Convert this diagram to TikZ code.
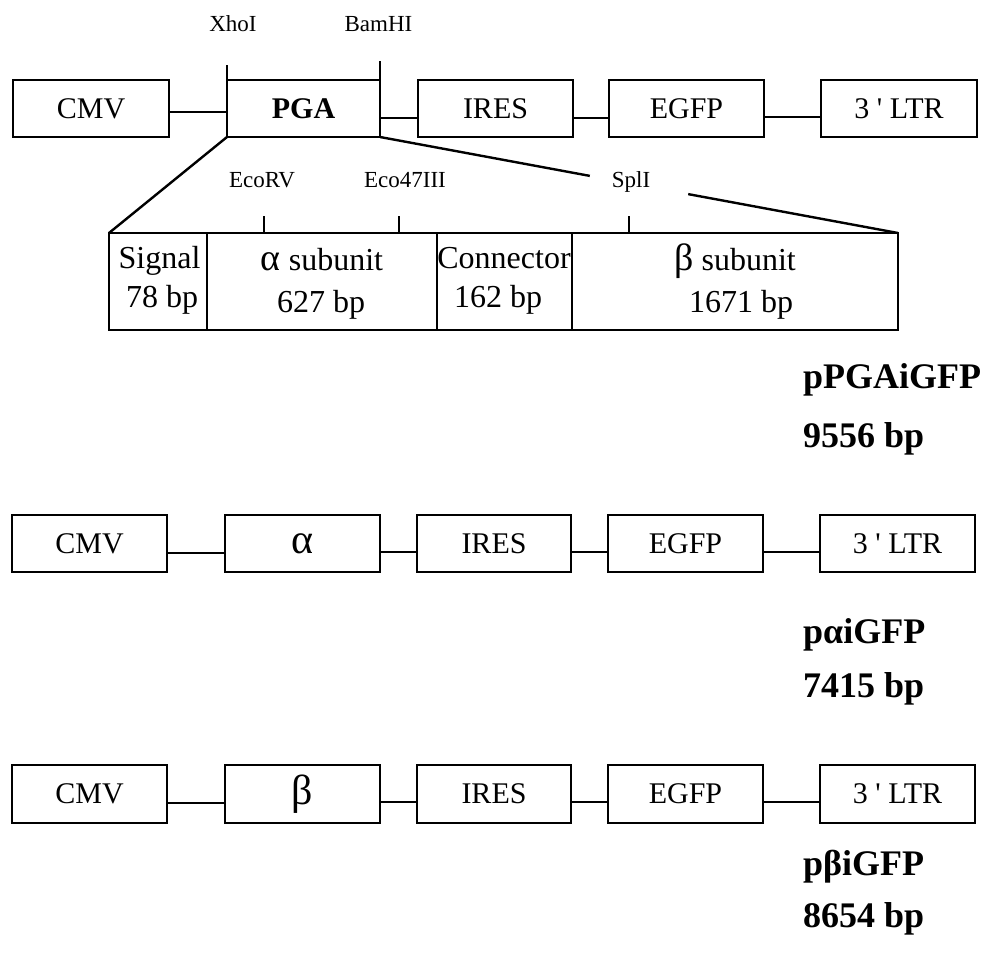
\documentclass[tikz,border=0pt]{standalone}
\usepackage{fontspec}
\setmainfont{Liberation Serif}
\usetikzlibrary{calc}
\begin{document}
\begin{tikzpicture}[x=1pt,y=-1pt,
 box/.style={draw, line width=1.8pt, minimum height=57pt, inner sep=0pt, outer sep=0pt, font=\fontsize{30}{30}\selectfont},
 seg/.style={draw, line width=1.8pt, minimum height=97pt, inner sep=0pt, outer sep=0pt},
 link/.style={line width=1.8pt},
 site/.style={font=\fontsize{23}{23}\selectfont, anchor=base, inner sep=0pt},
 segtxt/.style={font=\fontsize{32}{32}\selectfont, anchor=base, inner sep=0pt},
 plname/.style={font=\bfseries\fontsize{36}{36}\selectfont, anchor=base west, inner sep=0pt},
 zoomline/.style={line width=2.4pt},
 greekbig/.style={font=\fontsize{42}{42}\selectfont}
]
\useasboundingbox (0,0) rectangle (990,956);

% ---------- Row 1 ----------
\node[box, minimum width=156pt] (cmv1) at (91,108.5) {CMV};
\node[box, minimum width=153pt, font=\bfseries\fontsize{30}{30}\selectfont] (pga) at (303.5,108.5) {PGA};
\node[box, minimum width=155pt] (ires1) at (495.5,108.5) {IRES};
\node[box, minimum width=155pt] (egfp1) at (686.5,108.5) {EGFP};
\node[box, minimum width=156pt] (ltr1) at (899,108.5) {3 \textquotesingle{} LTR};

\draw[link] ([yshift=-3.5pt]cmv1.east) -- ([yshift=-3.5pt]pga.west);
\draw[link] ([yshift=-9.5pt]pga.east) -- ([yshift=-9.5pt]ires1.west);
\draw[link] ([yshift=-9.5pt]ires1.east) -- ([yshift=-9.5pt]egfp1.west);
\draw[link] ([yshift=-8.5pt]egfp1.east) -- ([yshift=-8.5pt]ltr1.west);

\coordinate (xhotop) at ([yshift=15pt]pga.north west);
\coordinate (bamtop) at ([yshift=19pt]pga.north east);
\draw[link] (xhotop) -- (pga.north west);
\draw[link] (bamtop) -- (pga.north east);
\node[site] (xho) at (233,31) {XhoI};
\node[site] (bam) at (378.5,31) {BamHI};

% ---------- Expanded PGA ----------
\node[seg, minimum width=98pt] (sig) at (158,281.5) {};
\node[seg, minimum width=230pt] (asub) at (322,281.5) {};
\node[seg, minimum width=135pt] (conn) at (504.5,281.5) {};
\node[seg, minimum width=326pt] (bsub) at (735,281.5) {};

\draw[zoomline] (pga.south west) -- (sig.north west);
\draw[zoomline] (pga.south east) -- ($(pga.south east)!0.405!(bsub.north east)$);
\draw[zoomline] ($(pga.south east)!0.595!(bsub.north east)$) -- (bsub.north east);

\coordinate (ecorvtop) at (264,216);
\coordinate (eco47top) at (399,216);
\coordinate (spltop) at (629,216);
\draw[link] (ecorvtop) -- (ecorvtop |- asub.north);
\draw[link] (eco47top) -- (eco47top |- asub.north);
\draw[link] (spltop) -- (spltop |- bsub.north);
\node[site] (ecorv) at (262,187) {EcoRV};
\node[site] (eco47) at (405,187) {Eco47III};
\node[site] (spl) at (631,187) {SplI};

\node[segtxt] (sigt1) at (159.5,268) {Signal};
\node[segtxt] (sigt2) at (162,307) {78 bp};
\node[segtxt] (asubt1) at (322,270) {{\fontsize{38}{38}\selectfont α} subunit};
\node[segtxt] (asubt2) at (321,312) {627 bp};
\node[segtxt] (connt1) at (504,268) {Connector};
\node[segtxt] (connt2) at (498,307) {162 bp};
\node[segtxt] (bsubt1) at (735,270) {{\fontsize{38}{38}\selectfont β} subunit};
\node[segtxt] (bsubt2) at (741,312) {1671 bp};

\node[plname] (n1a) at (803,388) {pPGAiGFP};
\node[plname] (n1b) at (803,447) {9556 bp};

% ---------- Row 2 ----------
\node[box, minimum width=155pt] (cmv2) at (89.5,543.5) {CMV};
\node[box, minimum width=155pt, greekbig] (a2) at (302.5,543.5) {α};
\node[box, minimum width=154pt] (ires2) at (494,543.5) {IRES};
\node[box, minimum width=155pt] (egfp2) at (685.5,543.5) {EGFP};
\node[box, minimum width=155pt] (ltr2) at (897.5,543.5) {3 \textquotesingle{} LTR};

\draw[link] ([yshift=-9.5pt]cmv2.east) -- ([yshift=-9.5pt]a2.west);
\draw[link] ([yshift=-8.5pt]a2.east) -- ([yshift=-8.5pt]ires2.west);
\draw[link] ([yshift=-8.5pt]ires2.east) -- ([yshift=-8.5pt]egfp2.west);
\draw[link] ([yshift=-8.5pt]egfp2.east) -- ([yshift=-8.5pt]ltr2.west);

\node[plname] (n2a) at (803,643) {pαiGFP};
\node[plname] (n2b) at (803,697) {7415 bp};

% ---------- Row 3 ----------
\node[box, minimum width=155pt, minimum height=58pt] (cmv3) at (89.5,794) {CMV};
\node[box, minimum width=155pt, minimum height=58pt, greekbig] (b3) at (302.5,794) {β};
\node[box, minimum width=154pt, minimum height=58pt] (ires3) at (494,794) {IRES};
\node[box, minimum width=155pt, minimum height=58pt] (egfp3) at (685.5,794) {EGFP};
\node[box, minimum width=155pt, minimum height=58pt] (ltr3) at (897.5,794) {3 \textquotesingle{} LTR};

\draw[link] ([yshift=-9pt]cmv3.east) -- ([yshift=-9pt]b3.west);
\draw[link] ([yshift=-8pt]b3.east) -- ([yshift=-8pt]ires3.west);
\draw[link] ([yshift=-8pt]ires3.east) -- ([yshift=-8pt]egfp3.west);
\draw[link] ([yshift=-8pt]egfp3.east) -- ([yshift=-8pt]ltr3.west);

\node[plname] (n3a) at (803,875) {pβiGFP};
\node[plname] (n3b) at (803,927) {8654 bp};
\end{tikzpicture}
\end{document}
